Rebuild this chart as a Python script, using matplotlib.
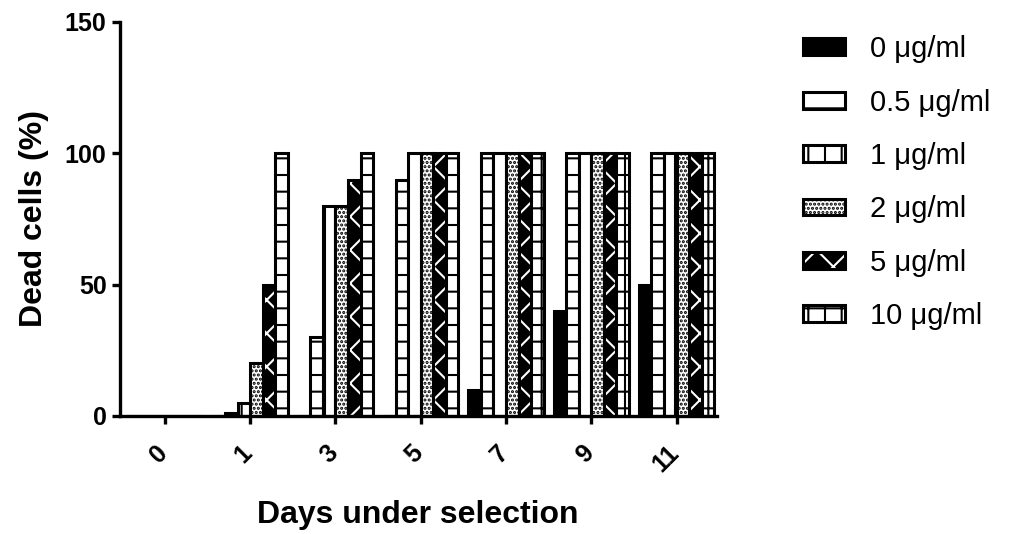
import numpy as np
import matplotlib.pyplot as plt
import matplotlib.transforms as mtransforms
from matplotlib.legend_handler import HandlerTuple

plt.rcParams['font.family'] = ['Liberation Sans', 'DejaVu Sans']
plt.rcParams['hatch.linewidth'] = 1.5

days = ['0', '1', '3', '5', '7', '9', '11']
doses = ['0 μg/ml', '0.5 μg/ml', '1 μg/ml', '2 μg/ml', '5 μg/ml', '10 μg/ml']

# dead cells (%) per dose, one value per day
dose_0 = [0, 0, 0, 0, 10, 40, 50]
dose_05 = [0, 1, 30, 90, 100, 100, 100]
dose_1 = [0, 5, 80, 100, 100, 100, 100]
dose_2 = [0, 20, 80, 100, 100, 100, 100]
dose_5 = [0, 50, 90, 100, 100, 100, 100]
dose_10 = [0, 100, 100, 100, 100, 100, 100]
values = [dose_0, dose_05, dose_1, dose_2, dose_5, dose_10]

# face colour, hatch, hatch colour
styles = [
    ('black', None, 'black'),
    ('white', '-', 'black'),
    ('white', '|', 'black'),
    ('white', '....', 'black'),
    ('black', 'x', 'white'),
    ('white', '+', 'black'),
]

fig = plt.figure(figsize=(10.15, 5.34), dpi=100)
ax = fig.add_axes([0.118, 0.221, 0.588, 0.738])

x = np.arange(len(days))
w = 0.147
handles = []
for i, (vals, (fc, hatch, hc)) in enumerate(zip(values, styles)):
    pos = x + (i - 2.5) * w
    fill = ax.bar(pos, vals, w, color=fc, hatch=hatch, edgecolor=hc, linewidth=0)
    edge = ax.bar(pos, vals, w, fill=False, edgecolor='black', linewidth=2.2)
    handles.append((fill, edge))

ax.set_xlim(-0.53, 6.47)
ax.set_ylim(0, 150)
ax.set_yticks([0, 50, 100, 150])
ax.set_xticks(x)
ax.set_xticklabels(days, rotation=45, ha='right')
for s in ['top', 'right']:
    ax.spines[s].set_visible(False)
for s in ['left', 'bottom']:
    ax.spines[s].set_linewidth(2.4)
ax.tick_params(width=2.4, length=6, labelsize=18)
ax.tick_params(axis='x', pad=12)
shift = mtransforms.ScaledTranslation(5 / 72, 0, fig.dpi_scale_trans)
for lab in ax.get_xticklabels():
    lab.set_fontweight('bold')
    lab.set_transform(lab.get_transform() + shift)
for lab in ax.get_yticklabels():
    lab.set_fontweight('bold')

ax.set_ylabel('Dead cells (%)', fontsize=23, fontweight='bold')
ax.set_xlabel('Days under selection', fontsize=23, fontweight='bold')
ax.yaxis.set_label_coords(-0.118, 0.5)
ax.xaxis.set_label_coords(0.5, -0.213)

fig.legend(handles, doses, loc='upper left', bbox_to_anchor=(0.7795, 0.956),
           borderaxespad=0, frameon=False, fontsize=21, handlelength=1.44,
           handleheight=0.51, labelspacing=0.87, handletextpad=0.86,
           handler_map={tuple: HandlerTuple(ndivide=1)})

fig.savefig('out.png', dpi=100)
